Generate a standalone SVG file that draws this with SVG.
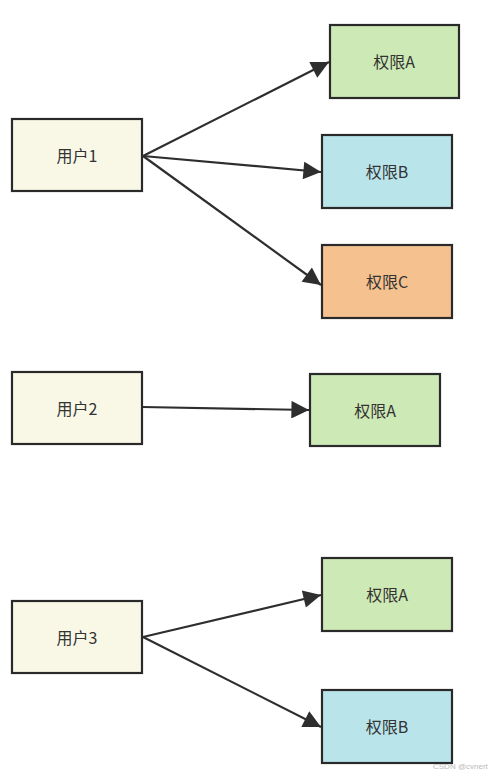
<svg xmlns="http://www.w3.org/2000/svg" width="500" height="775" viewBox="0 0 500 775">
<style>
.box{stroke:#2a2a2a;stroke-width:2.2}
.u{fill:#f9f8e7}
.g{fill:#cde9b5}
.b{fill:#b9e4ea}
.o{fill:#f4c18f}
.t{font-family:"Noto Sans CJK SC","Liberation Sans",sans-serif;font-size:16px;fill:#333;text-anchor:middle;dominant-baseline:central}
.c{stroke:#2e2e2e;stroke-width:2.2;fill:none;marker-end:url(#ah)}
.wm{font-family:"Liberation Sans",sans-serif;font-size:8px;fill:#bbb}
</style>
<defs>
<marker id="ah" viewBox="0 0 10 10" refX="10" refY="5" markerWidth="9" markerHeight="8" orient="auto">
<path d="M0,0 L10,5 L0,10 z" fill="#2e2e2e"/>
</marker>
</defs>
<g id="connectors">
<line class="c" x1="143" y1="156" x2="329" y2="62"/>
<line class="c" x1="143" y1="156" x2="321" y2="172"/>
<line class="c" x1="143" y1="156" x2="321" y2="285"/>
<line class="c" x1="143" y1="407" x2="309" y2="410"/>
<line class="c" x1="143" y1="637" x2="321" y2="595"/>
<line class="c" x1="143" y1="637" x2="321" y2="727"/>
</g>
<g id="user1"><rect class="box u" x="12" y="119" width="130" height="72"/><text class="t" x="77" y="155">用户1</text></g>
<g id="perm1A"><rect class="box g" x="330" y="25" width="129" height="73"/><text class="t" x="394" y="61">权限A</text></g>
<g id="perm1B"><rect class="box b" x="322" y="135" width="130" height="73"/><text class="t" x="387" y="171">权限B</text></g>
<g id="perm1C"><rect class="box o" x="322" y="245" width="130" height="73"/><text class="t" x="387" y="281">权限C</text></g>
<g id="user2"><rect class="box u" x="12" y="372" width="130" height="72"/><text class="t" x="77" y="408">用户2</text></g>
<g id="perm2A"><rect class="box g" x="310" y="374" width="130" height="72"/><text class="t" x="375" y="410">权限A</text></g>
<g id="user3"><rect class="box u" x="12" y="601" width="130" height="72"/><text class="t" x="77" y="637">用户3</text></g>
<g id="perm3A"><rect class="box g" x="322" y="558" width="130" height="73"/><text class="t" x="387" y="594">权限A</text></g>
<g id="perm3B"><rect class="box b" x="322" y="690" width="130" height="73"/><text class="t" x="387" y="726">权限B</text></g>
<text class="wm" x="433" y="769">CSDN @cvnert</text>
</svg>
